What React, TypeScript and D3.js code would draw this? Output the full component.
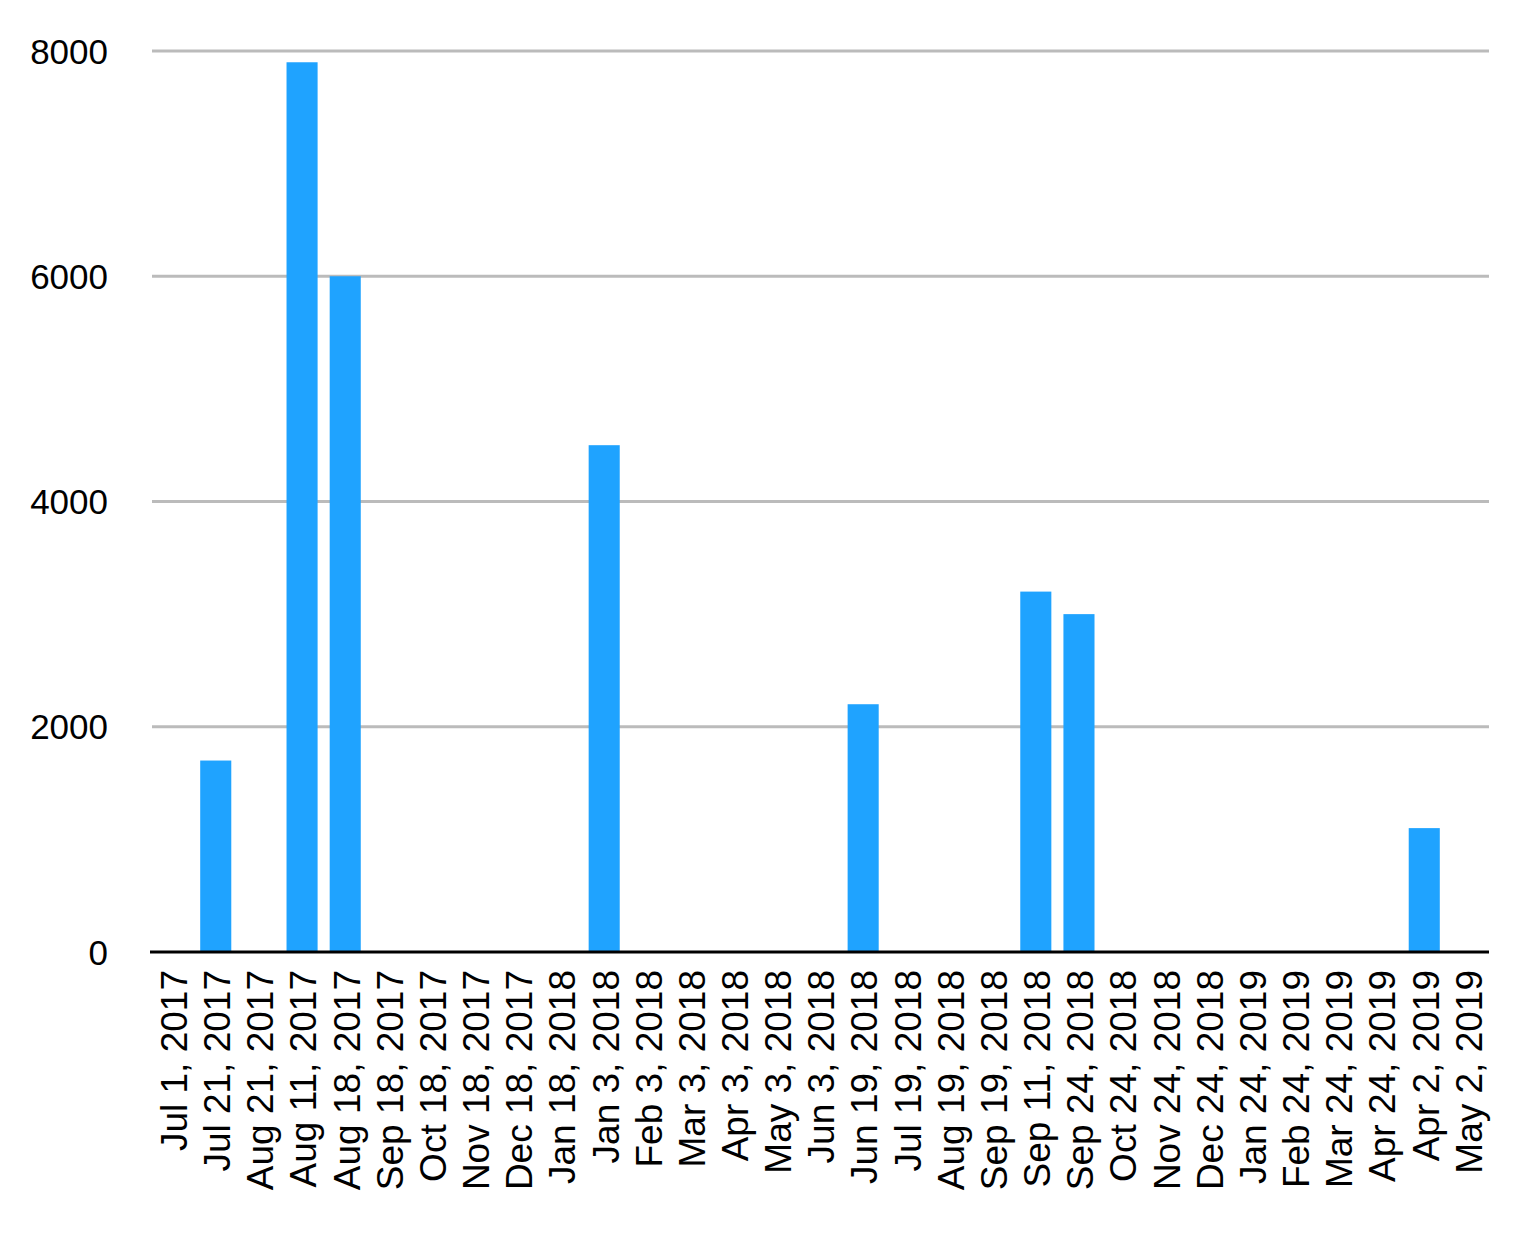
import React, { useEffect, useRef } from 'react';
import * as d3 from 'd3';

const categories = [
  'Jul 1, 2017', 'Jul 21, 2017', 'Aug 21, 2017', 'Aug 11, 2017', 'Aug 18, 2017',
  'Sep 18, 2017', 'Oct 18, 2017', 'Nov 18, 2017', 'Dec 18, 2017', 'Jan 18, 2018',
  'Jan 3, 2018', 'Feb 3, 2018', 'Mar 3, 2018', 'Apr 3, 2018', 'May 3, 2018',
  'Jun 3, 2018', 'Jun 19, 2018', 'Jul 19, 2018', 'Aug 19, 2018', 'Sep 19, 2018',
  'Sep 11, 2018', 'Sep 24, 2018', 'Oct 24, 2018', 'Nov 24, 2018', 'Dec 24, 2018',
  'Jan 24, 2019', 'Feb 24, 2019', 'Mar 24, 2019', 'Apr 24, 2019', 'Apr 2, 2019',
  'May 2, 2019',
];

const values = [
  0, 1700, 0, 7900, 6000,
  0, 0, 0, 0, 0,
  4500, 0, 0, 0, 0,
  0, 2200, 0, 0, 0,
  3200, 3000, 0, 0, 0,
  0, 0, 0, 0, 1100,
  0,
];

const yTicks = [0, 2000, 4000, 6000, 8000];

const App: React.FC = () => {
  const svgRef = useRef<SVGSVGElement>(null);

  useEffect(() => {
    if (!svgRef.current) return;
    const width = 1524;
    const height = 1236;
    const left = 151;
    const right = 1489;
    const top = 51;
    const bottom = 952;
    const fontFamily = "'Liberation Sans', Arial, Helvetica, sans-serif";
    const fontSize = 35;
    const xFontSize = 37;

    const svg = d3.select(svgRef.current);
    svg.selectAll('*').remove();
    svg.attr('width', width).attr('height', height);

    const x = d3.scaleBand<string>()
      .domain(categories)
      .range([left, right])
      .paddingInner(0.28)
      .paddingOuter(0.14);

    const y = d3.scaleLinear().domain([0, 8000]).range([bottom, top]);

    // gridlines
    svg.append('g')
      .selectAll('line')
      .data(yTicks.filter(t => t > 0))
      .join('line')
      .attr('x1', left + 1)
      .attr('x2', right)
      .attr('y1', d => y(d))
      .attr('y2', d => y(d))
      .attr('stroke', '#bbbbbb')
      .attr('stroke-width', 3);

    // y labels
    svg.append('g')
      .selectAll('text')
      .data(yTicks)
      .join('text')
      .attr('x', 108)
      .attr('y', d => y(d))
      .attr('dy', '0.36em')
      .attr('text-anchor', 'end')
      .attr('font-family', fontFamily)
      .attr('font-size', fontSize)
      .attr('fill', '#000')
      .text(d => String(d));

    // bars
    svg.append('g')
      .selectAll('rect')
      .data(values.map((v, i) => ({ c: categories[i], v })).filter(d => d.v > 0))
      .join('rect')
      .attr('x', d => x(d.c) as number)
      .attr('width', x.bandwidth())
      .attr('y', d => y(d.v))
      .attr('height', d => bottom - y(d.v))
      .attr('fill', '#1fa3ff');

    // baseline
    svg.append('line')
      .attr('x1', left - 1)
      .attr('x2', right)
      .attr('y1', bottom)
      .attr('y2', bottom)
      .attr('stroke', '#000')
      .attr('stroke-width', 3);

    // x labels
    svg.append('g')
      .selectAll('text')
      .data(categories)
      .join('text')
      .attr('transform', d => `translate(${(x(d) as number) + x.bandwidth() / 2 + 1},${bottom + 18}) rotate(-90)`)
      .attr('dy', '0.36em')
      .attr('text-anchor', 'end')
      .attr('font-family', fontFamily)
      .attr('font-size', xFontSize)
      .attr('fill', '#000')
      .text(d => d);
  }, []);

  return (
    <div style={{ margin: -8 }}>
      <svg ref={svgRef} style={{ display: 'block' }}></svg>
    </div>
  );
};

export default App;
